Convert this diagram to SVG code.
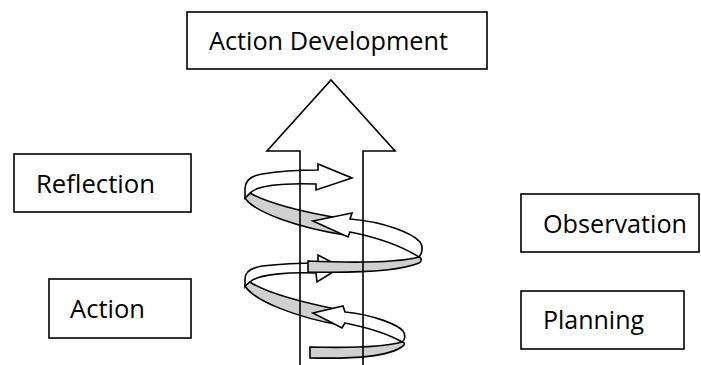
<svg xmlns="http://www.w3.org/2000/svg" width="701" height="365" viewBox="0 0 701 365">
<style>
.box{fill:#fff;stroke:#000;stroke-width:1.6}
.lbl{font-family:"Open Sans","Liberation Sans",sans-serif;font-size:25px;fill:#000}
.w{fill:#fff;stroke:#000;stroke-width:1.6;stroke-linejoin:miter}
.g{fill:#d0d0d0;stroke:#000;stroke-width:1.6}
.arr{fill:none;stroke:#000;stroke-width:1.6;stroke-linejoin:miter}
</style>
<rect width="701" height="365" fill="#fff"/>
<g id="action-development">
<rect class="box" x="187" y="12" width="300" height="57"/>
<text class="lbl" x="209" y="50" textLength="239" lengthAdjust="spacingAndGlyphs">Action Development</text>
</g>
<g id="reflection">
<rect class="box" x="14" y="154" width="177" height="58"/>
<text class="lbl" x="36" y="193" textLength="119" lengthAdjust="spacingAndGlyphs">Reflection</text>
</g>
<g id="action">
<rect class="box" x="49" y="279" width="142" height="59"/>
<text class="lbl" x="70" y="318" textLength="75" lengthAdjust="spacingAndGlyphs">Action</text>
</g>
<g id="observation">
<rect class="box" x="521" y="194" width="178" height="58"/>
<text class="lbl" x="543" y="233" textLength="144" lengthAdjust="spacingAndGlyphs">Observation</text>
</g>
<g id="planning">
<rect class="box" x="521" y="291" width="163" height="58"/>
<text class="lbl" x="543" y="329" textLength="101" lengthAdjust="spacingAndGlyphs">Planning</text>
</g>
<g id="connectors">
<g id="spiral">
<path class="g" d="M250,193 C265,202 300,212 345,219 L345,235 C300,228 255,213 245,198 Z"/>
<path class="w" d="M245,198 L245,189 C245,181 250,176 262,174 C280,171 300,170 318,170 L318,164 L352,178 L316,190 L316,184 C285,183 258,185 250,193 Z"/>
<path class="w" d="M313,221 L352,213 L350,219 C385,222 412,233 420,242 C423,246 423,252 419,257 C400,245 375,237 350,232 L348,237 Z"/>
<path class="w" d="M245,287 L245,279 C245,272 250,268 262,266 C280,264 300,263 318,263 L318,255 L341,267 L317,282 L316,273 C290,272 258,274 250,282 Z"/>
<path class="g" d="M308,261 C355,263 400,262 419,257 C422,258 422,261 419,263 C400,271 355,273 308,272 Z"/>
<path class="g" d="M250,282 C265,292 300,302 340,310 L340,325 C300,318 255,302 245,286 Z"/>
<path class="w" d="M313,313 L343,306 L345,312 C375,315 398,325 403,331 C406,335 405,340 402,342 C390,335 370,328 345,323 L342,328 Z"/>
<path class="g" d="M310,347 C350,348 385,347 402,342 C405,342 405,345 403,346 C390,356 360,359 310,358 Z"/>
</g>
<path id="big-arrow" class="arr" d="M300,365 L300,151 L267,151 L331,80 L395,151 L363,151 L363,365"/>
</g>
</svg>
